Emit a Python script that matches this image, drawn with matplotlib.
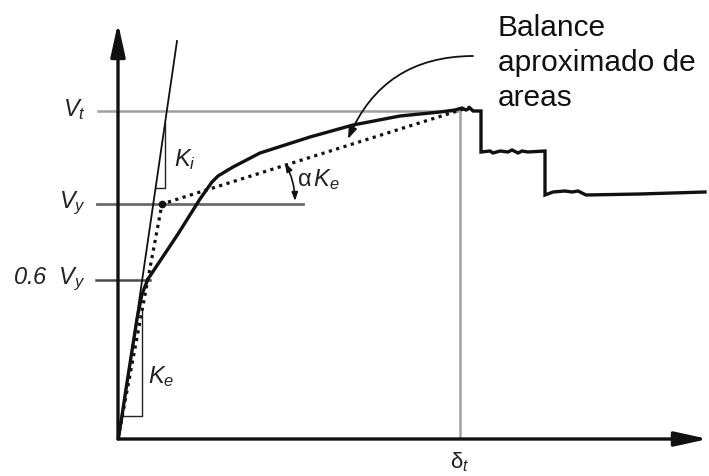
import matplotlib
matplotlib.use("Agg")
import matplotlib.pyplot as plt

plt.rcParams['font.family'] = ['Liberation Sans', 'DejaVu Sans']
plt.rcParams['mathtext.fontset'] = 'custom'
plt.rcParams['mathtext.rm'] = 'Liberation Sans'
plt.rcParams['mathtext.it'] = 'Liberation Sans:italic'
plt.rcParams['mathtext.bf'] = 'Liberation Sans:bold'

# Pushover capacity curve: roof displacement vs. base shear (arbitrary units)
disp = [0.0, 0.35, 0.8, 1.35, 1.9, 2.4, 3.0, 6.0, 8.2, 9.4, 10.0, 11.5, 14.2,
        19.2, 23.5, 28.2, 32.2, 33.7, 34.4, 34.8, 35.2, 35.5, 36.3, 36.3,
        37.2, 37.5, 38.2, 39.0, 39.4, 40.0, 40.4, 41.0, 42.7, 42.7, 43.5,
        44.7, 45.4, 46.0, 46.8, 52.2, 58.7]
shear = [0.0, 2.0, 5.0, 8.5, 12.0, 14.5, 16.0, 20.5, 24.0, 25.7, 26.3, 27.2,
         28.6, 30.2, 31.4, 32.3, 32.7, 32.9, 33.1, 32.9, 33.1, 32.8, 32.8,
         28.7, 28.8, 28.6, 28.8, 28.7, 28.9, 28.6, 28.8, 28.7, 28.8, 24.4,
         24.7, 24.8, 24.7, 24.8, 24.4, 24.5, 24.7]

# Idealized bilinear representation
bil_disp = [0.0, 4.4, 35.2]
bil_shear = [0.0, 23.5, 33.2]

# Initial stiffness line K_i
ki_disp = [0.1, 5.9]
ki_shear = [0.0, 39.8]

# Characteristic levels
V_t = 32.8
V_y = 23.5
V_06y = 15.9
delta_t = 34.2

fig = plt.figure(figsize=(7.09, 4.77), dpi=100)
fig.patch.set_facecolor('white')
ax = fig.add_axes([118 / 709, 37 / 477, 591 / 709, 440 / 477])
ax.set_xlim(0, 59.1)
ax.set_ylim(0, 44.0)
ax.axis('off')

# Reference levels
ax.plot([-2.0, delta_t], [V_t, V_t], color='#a0a0a0', lw=1.8, clip_on=False, zorder=1)
ax.plot([delta_t, delta_t], [0, V_t], color='#a0a0a0', lw=1.8, zorder=1)
ax.plot([-2.1, 18.5], [V_y, V_y], color='#6a6a6a', lw=2.0, clip_on=False, zorder=1)
ax.plot([-2.2, 3.2], [V_06y, V_06y], color='#4a4a4a', lw=1.8, clip_on=False, zorder=1)

# Initial stiffness line and its slope triangle
ax.plot(ki_disp, ki_shear, color='#111111', lw=1.3, zorder=2)
ki_slope = (ki_shear[1] - ki_shear[0]) / (ki_disp[1] - ki_disp[0])
tri_b, tri_r = 25.1, 4.7
ax.plot([ki_disp[0] + tri_b / ki_slope, tri_r, tri_r],
        [tri_b, tri_b, (tri_r - ki_disp[0]) * ki_slope],
        color='#222222', lw=1.0, zorder=2)

# Effective stiffness slope triangle
ke_slope = bil_shear[1] / bil_disp[1]
tri_b, tri_r = 2.3, 2.4
ax.plot([tri_b / ke_slope, tri_r, tri_r], [tri_b, tri_b, tri_r * ke_slope],
        color='#222222', lw=1.0, zorder=2)

# Bilinear idealization (dotted)
ax.plot(bil_disp, bil_shear, color='#111111', lw=2.3,
        linestyle=(0, (1.0, 1.4)), zorder=3)
ax.plot([bil_disp[1]], [bil_shear[1]], 'o', color='#111111', ms=4.5, zorder=3)

# Capacity curve
ax.plot(disp, shear, color='#111111', lw=2.4, solid_joinstyle='miter', zorder=4)

# Axes with arrowheads
arrow_kw = dict(arrowstyle='-|>,head_length=1.0,head_width=0.22',
                mutation_scale=20, lw=2.4, color='#111111', shrinkA=0, shrinkB=0)
ax.annotate('', xy=(59.0, 0), xytext=(0, 0), arrowprops=arrow_kw,
            annotation_clip=False, zorder=5)
ax.annotate('', xy=(0, 41.6), xytext=(0, 0), arrowprops=arrow_kw,
            annotation_clip=False, zorder=5)

# Axis level labels
lab_kw = dict(ha='right', va='center', fontsize=17, color='#222222')
ax.text(-3.2, V_t + 0.2, r'$V_t$', **lab_kw)
ax.text(-3.2, V_y + 0.2, r'$V_y$', **lab_kw)
ax.text(-3.2, V_06y + 0.2, r'0.6  $V_y$', style='italic', **lab_kw)
ax.text(delta_t, -2.2, r'$\mathrm{\delta}_t$', ha='center', va='center',
        fontsize=16, color='#222222')

# Stiffness labels
ax.text(5.6, 28.0, r'$K_i$', ha='left', va='center', fontsize=17, color='#222222')
ax.text(3.0, 6.3, r'$K_e$', ha='left', va='center', fontsize=17, color='#222222')
ax.text(17.9, 26.0, r'$\mathrm{\alpha}\,K_e$', ha='left', va='center',
        fontsize=17, color='#222222')

# Angle marker for post-yield stiffness
ax.annotate('', xy=(17.7, 23.8), xytext=(16.7, 27.6),
            arrowprops=dict(arrowstyle='<|-|>,head_length=0.5,head_width=0.18',
                            mutation_scale=10, lw=1.2, color='#111111',
                            shrinkA=0, shrinkB=0,
                            connectionstyle='arc3,rad=-0.12'), zorder=5)

# Area-balance note with curved leader
ax.text(38.0, 42.6, 'Balance\naproximado de\nareas', ha='left', va='top',
        fontsize=21.5, color='#111111', linespacing=1.32)
ax.annotate('', xy=(23.0, 30.0), xytext=(35.5, 38.3),
            arrowprops=dict(arrowstyle='-|>,head_length=0.7,head_width=0.25',
                            mutation_scale=10, lw=1.3, color='#111111',
                            shrinkA=0, shrinkB=0,
                            connectionstyle='arc3,rad=0.33'), zorder=5)

fig.savefig('out.png', dpi=100, facecolor='white')
